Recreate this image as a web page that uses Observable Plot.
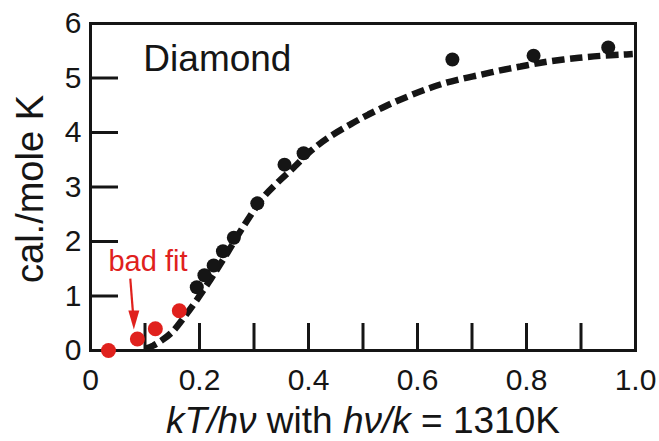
<!DOCTYPE html>
<html>
<head>
<meta charset="utf-8">
<script src="https://cdn.jsdelivr.net/npm/d3@7"></script>
<script src="https://cdn.jsdelivr.net/npm/@observablehq/plot@0.6"></script>
<style>
  html, body { margin: 0; padding: 0; background: #ffffff; }
  #chart svg { display: block; }
</style>
</head>
<body>
<div id="chart"></div>
<script>
// ---- data ----
const blackT = [0.195, 0.209, 0.226, 0.243, 0.263, 0.306, 0.356, 0.391, 0.664, 0.813, 0.950];
const blackC = [1.16, 1.38, 1.56, 1.82, 2.07, 2.70, 3.41, 3.62, 5.34, 5.41, 5.56];
const redT = [0.033, 0.086, 0.119, 0.163];
const redC = [0.00, 0.21, 0.40, 0.73];
const fitT = [0.100, 0.115, 0.130, 0.150, 0.171, 0.193, 0.220, 0.251, 0.284, 0.318, 0.343, 0.370, 0.404, 0.437, 0.477, 0.510, 0.545, 0.582, 0.618, 0.648, 0.679, 0.716, 0.752, 0.789, 0.826, 0.868, 0.905, 0.941, 0.978, 0.995];
const fitC = [0.03, 0.09, 0.18, 0.34, 0.60, 0.90, 1.30, 1.79, 2.33, 2.82, 3.08, 3.33, 3.66, 3.91, 4.15, 4.33, 4.50, 4.66, 4.80, 4.90, 4.98, 5.06, 5.14, 5.21, 5.28, 5.34, 5.38, 5.41, 5.43, 5.44];

const xLabelValues = [0, 0.2, 0.4, 0.6, 0.8, 1.0];
const xLabels = ["0", "0.2", "0.4", "0.6", "0.8", "1.0"];
const yLabelValues = [0, 1, 2, 3, 4, 5, 6];
const yLabels = ["0", "1", "2", "3", "4", "5", "6"];
const xInnerTicks = [0.1, 0.2, 0.3, 0.4, 0.5, 0.6, 0.7, 0.8, 0.9];
const yInnerTicks = [1, 2, 3, 4, 5];

const yTitle = "cal./mole K";
const xTitleParts = [
  {text: "kT/hν", italic: true},
  {text: " with ", italic: false},
  {text: "hν/k", italic: true},
  {text: " = 1310K", italic: false}
];
const xTitle = xTitleParts.map(p => p.text).join("");

// annotations (in data units)
const labelDiamond = [{t: 0.097, c: 5.354, text: "Diamond"}];
const labelBadFit = [{t: 0.033, c: 1.62, text: "bad fit"}];
const arrowShaft = [{t1: 0.073, c1: 1.32, t2: 0.0785, c2: 0.62}];
const arrowHead = [{t: 0.0795, c: 0.385}];

// ---- build ----
const black = blackT.map((t, i) => ({t, c: blackC[i]}));
const red = redT.map((t, i) => ({t, c: redC[i]}));
const fit = fitT.map((t, i) => ({t, c: fitC[i]}));

const RED = "#e0211d";
const INK = "#151515";

const headSymbol = {
  draw(ctx, size) {
    ctx.moveTo(0, 0);
    ctx.lineTo(-5.5, -19);
    ctx.lineTo(5.5, -19);
    ctx.closePath();
  }
};

const plot = Plot.plot({
  width: 659,
  height: 441,
  marginLeft: 90,
  marginRight: 24,
  marginTop: 23,
  marginBottom: 91,
  style: {background: "#ffffff", fontFamily: "'Liberation Sans', Arial, sans-serif", color: INK},
  x: {domain: [0, 1], axis: null},
  y: {domain: [0, 6], axis: null},
  marks: [
    // tick labels
    Plot.text(xLabelValues, {x: d => d, frameAnchor: "bottom", lineAnchor: "middle", textAnchor: "middle", dy: 30, text: (d, i) => xLabels[i], fontSize: 30, fill: INK}),
    Plot.text(yLabelValues, {y: d => d, frameAnchor: "left", lineAnchor: "middle", textAnchor: "end", dx: -9, text: (d, i) => yLabels[i], fontSize: 30, fill: INK}),
    // inward ticks
    Plot.tickX(xInnerTicks, {x: d => d, stroke: INK, strokeWidth: 3, insetTop: 327 - 27}),
    Plot.tickY(yInnerTicks, {y: d => d, stroke: INK, strokeWidth: 3, insetRight: 545 - 28}),
    Plot.frame({stroke: INK, strokeWidth: 3}),
    // fit curve and data
    Plot.line(fit, {x: "t", y: "c", stroke: INK, strokeWidth: 6.5, strokeDasharray: "12.5,5.5", strokeLinecap: "butt", strokeLinejoin: "miter", curve: "catmull-rom"}),
    Plot.dot(black, {x: "t", y: "c", r: 7, fill: INK, stroke: "none"}),
    Plot.dot(red, {x: "t", y: "c", r: 7.5, fill: RED, stroke: "none"}),
    // annotation
    Plot.link(arrowShaft, {x1: "t1", y1: "c1", x2: "t2", y2: "c2", stroke: RED, strokeWidth: 2.2}),
    Plot.dot(arrowHead, {x: "t", y: "c", symbol: headSymbol, r: 5, fill: RED, stroke: "none"}),
    Plot.text(labelDiamond, {x: "t", y: "c", text: "text", textAnchor: "start", lineAnchor: "middle", fontSize: 37, fill: INK}),
    Plot.text(labelBadFit, {x: "t", y: "c", text: "text", textAnchor: "start", lineAnchor: "middle", fontSize: 29, fill: RED}),
    // axis titles
    Plot.text([xTitle], {frameAnchor: "bottom", lineAnchor: "middle", textAnchor: "middle", dy: 71, text: d => d, fontSize: 37, fill: INK}),
    Plot.text([yTitle], {frameAnchor: "left", lineAnchor: "middle", textAnchor: "middle", dx: -60, dy: 2, rotate: -90, text: d => d, fontSize: 38, fill: INK})
  ]
});

document.getElementById("chart").appendChild(plot);

// italicize parts of the x title (kept as real text)
d3.select(plot).selectAll("text").filter(function() { return this.textContent === xTitle; })
  .each(function() {
    const t = d3.select(this);
    t.text(null);
    xTitleParts.forEach(p => {
      t.append("tspan").attr("font-style", p.italic ? "italic" : "normal").text(p.text);
    });
  });
</script>
</body>
</html>
